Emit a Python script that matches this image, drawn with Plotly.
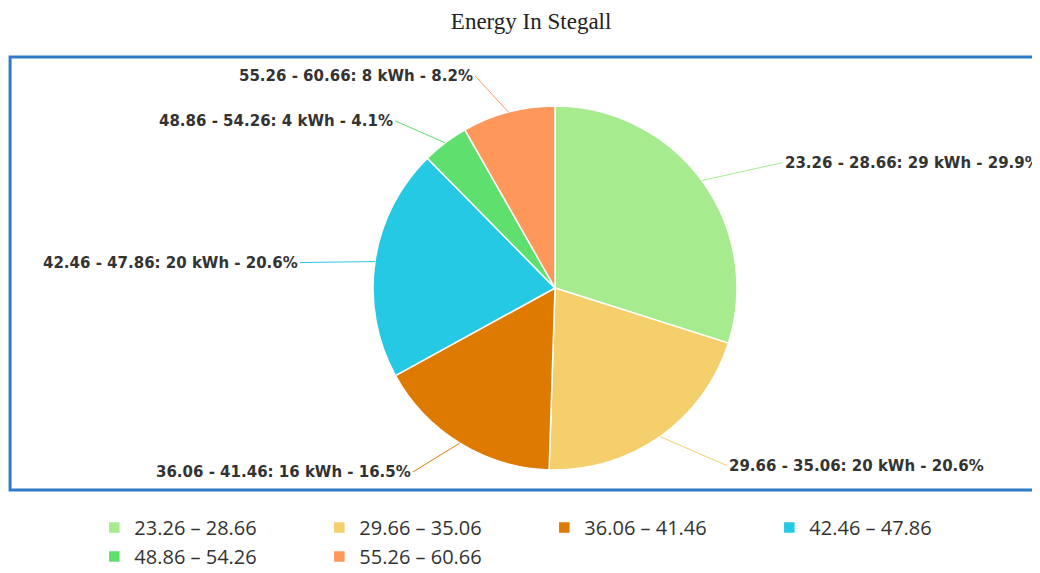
import math
import plotly.graph_objects as go

categories = ["23.26 – 28.66", "29.66 – 35.06", "36.06 – 41.46",
              "42.46 – 47.86", "48.86 – 54.26", "55.26 – 60.66"]
label_names = ["23.26 - 28.66", "29.66 - 35.06", "36.06 - 41.46",
               "42.46 - 47.86", "48.86 - 54.26", "55.26 - 60.66"]
energy_kwh = [29, 20, 16, 20, 4, 8]
colors = ["#a6ec8f", "#f4cf6c", "#de7a00", "#26c9e4", "#5fe06e", "#fd975a"]

# label text offsets (pixels) from the slice edge, and side of the label
label_dx = [81, 67, -47, -75, -50, -33]
label_dy = [-18, 29, 29, 1, -22, -36]
label_side = ["left", "left", "right", "right", "right", "right"]

W, H = 1040, 573
# pie geometry in figure pixels
cx, cy, R = 547, 280, 182
dom_x = [(cx - R) / W, (cx + R) / W]
dom_y = [1 - (cy + R) / H, 1 - (cy - R) / H]

fig = go.Figure()
fig.add_trace(go.Pie(
    labels=categories,
    values=energy_kwh,
    sort=False,
    direction="clockwise",
    rotation=0,
    marker=dict(colors=colors, line=dict(color="white", width=1.5)),
    textinfo="none",
    domain=dict(x=dom_x, y=dom_y),
    automargin=False,
    hoverinfo="label+value+percent",
))

total = sum(energy_kwh)
annotations = []
cum = 0
for name, v, col, dx, dy, side in zip(label_names, energy_kwh, colors, label_dx, label_dy, label_side):
    mid = 2 * math.pi * (cum + v / 2) / total
    cum += v
    ex = cx + R * math.sin(mid)
    ey = cy - R * math.cos(mid)
    pct = 100 * v / total
    annotations.append(dict(
        x=ex / W, y=1 - ey / H, xref="paper", yref="paper",
        ax=dx, ay=dy, axref="pixel", ayref="pixel",
        text=f"<b>{name}: {v} kWh - {pct:.1f}%</b>",
        showarrow=True, arrowhead=0, arrowwidth=1, arrowcolor=col, standoff=0,
        xanchor=side, yanchor="middle",
        font=dict(family="DejaVu Sans, Arial, sans-serif", size=15, color="#333333"),
    ))

fig.update_layout(
    width=W, height=H,
    margin=dict(l=0, r=0, t=0, b=0),
    paper_bgcolor="white",
    title=dict(text="Energy In Stegall", x=0.503, xanchor="center", y=0.977, yanchor="middle",
               font=dict(family="Liberation Serif, Times New Roman, serif", size=23, color="#222222")),
    legend=dict(orientation="h", x=0.083, xanchor="left", y=0.1274, yanchor="top",
                font=dict(family="Open Sans, sans-serif", size=20, color="#333333"),
                entrywidth=180, entrywidthmode="pixels", traceorder="normal"),
    annotations=annotations,
    shapes=[dict(type="rect", xref="paper", yref="paper", x0=0.002, x1=1.01, y0=0.1588, y1=0.9145,
                 line=dict(color="#2f7bc8", width=3), fillcolor="rgba(0,0,0,0)", layer="below")],
)

fig.write_html("out.html")
